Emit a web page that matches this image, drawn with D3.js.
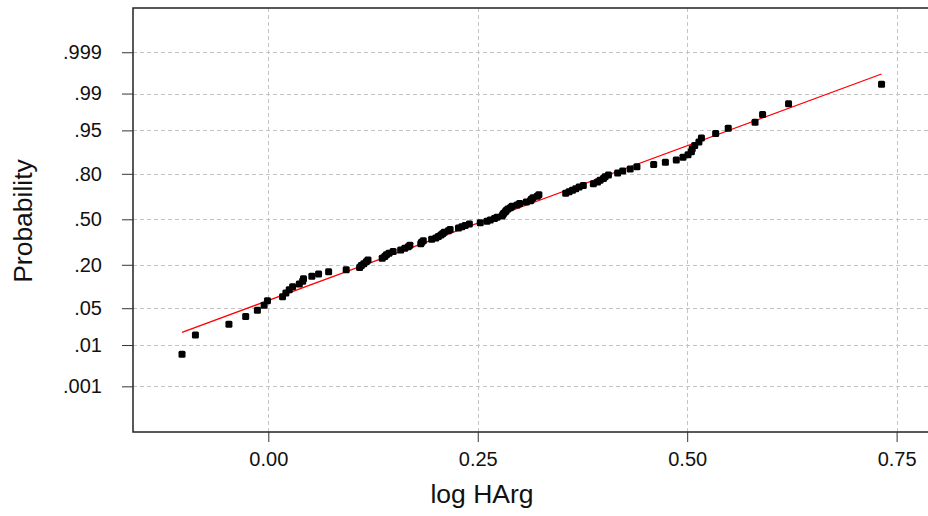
<!DOCTYPE html>
<html>
<head>
<meta charset="utf-8">
<script src="https://cdn.jsdelivr.net/npm/d3@7"></script>
<style>
  html, body { margin: 0; padding: 0; background: #fff; }
  svg { display: block; }
  .axis text { font-family: "Liberation Sans", Arial, sans-serif; font-size: 20px; fill: #111; }
  .axis path { display: none; }
  .axis line { stroke: #333; stroke-width: 1; }
  .title { font-family: "Liberation Sans", Arial, sans-serif; font-size: 26.5px; fill: #111; }
</style>
</head>
<body>
<svg id="chart" width="928" height="516"></svg>
<script>
// Observed log HArg values, sorted ascending (n = 100)
const logHArg = [
  -0.103, -0.087, -0.047, -0.027, -0.013, -0.005, -0.001, 0.017, 0.021, 0.025,
   0.029,  0.037,  0.041,  0.042,  0.052,  0.060,  0.072, 0.093, 0.109, 0.111,
   0.114,  0.117,  0.119,  0.136,  0.139,  0.141,  0.144, 0.149, 0.158, 0.163,
   0.167,  0.169,  0.182,  0.183,  0.185,  0.195,  0.200, 0.203, 0.206, 0.208,
   0.210,  0.215,  0.217,  0.227,  0.231,  0.235,  0.240, 0.253, 0.261, 0.265,
   0.270,  0.273,  0.279,  0.280,  0.281,  0.283,  0.284, 0.286, 0.289, 0.291,
   0.297,  0.300,  0.308,  0.313,  0.314,  0.316,  0.321, 0.323, 0.355, 0.359,
   0.363,  0.367,  0.371,  0.376,  0.388,  0.393,  0.396, 0.400, 0.402, 0.406,
   0.417,  0.423,  0.432,  0.440,  0.460,  0.474,  0.487, 0.495, 0.501, 0.505,
   0.506,  0.509,  0.514,  0.517,  0.534,  0.549,  0.581, 0.590, 0.621, 0.732
];

// Axis ticks
const xTicks = [0, 0.25, 0.5, 0.75];
const xTickLabels = ["0.00", "0.25", "0.50", "0.75"];
const probTicks = [0.001, 0.01, 0.05, 0.20, 0.50, 0.80, 0.95, 0.99, 0.999];
const probTickLabels = [".001", ".01", ".05", ".20", ".50", ".80", ".95", ".99", ".999"];

// Inverse standard normal CDF (Acklam's rational approximation)
function probit(p) {
  const a = [-3.969683028665376e+01, 2.209460984245205e+02, -2.759285104469687e+02,
             1.383577518672690e+02, -3.066479806614716e+01, 2.506628277459239e+00];
  const b = [-5.447609879822406e+01, 1.615858368580409e+02, -1.556989798598866e+02,
             6.680131188771972e+01, -1.328068155288572e+01];
  const c = [-7.784894002430293e-03, -3.223964580411365e-01, -2.400758277161838e+00,
             -2.549671369348940e+00, 4.374664141464968e+00, 2.938163982698783e+00];
  const d = [7.784695709041462e-03, 3.224671290700398e-01, 2.445134137142996e+00,
             3.754408661907416e+00];
  const pl = 0.02425, ph = 1 - pl;
  let q, r;
  if (p < pl) {
    q = Math.sqrt(-2 * Math.log(p));
    return (((((c[0]*q + c[1])*q + c[2])*q + c[3])*q + c[4])*q + c[5]) /
           ((((d[0]*q + d[1])*q + d[2])*q + d[3])*q + 1);
  }
  if (p <= ph) {
    q = p - 0.5; r = q * q;
    return (((((a[0]*r + a[1])*r + a[2])*r + a[3])*r + a[4])*r + a[5]) * q /
           (((((b[0]*r + b[1])*r + b[2])*r + b[3])*r + b[4])*r + 1);
  }
  q = Math.sqrt(-2 * Math.log(1 - p));
  return -(((((c[0]*q + c[1])*q + c[2])*q + c[3])*q + c[4])*q + c[5]) /
          ((((d[0]*q + d[1])*q + d[2])*q + d[3])*q + 1);
}

const svg = d3.select("#chart");
const plot = { left: 133, top: 8, right: 936, bottom: 432 };

const x = d3.scaleLinear().domain([-0.1615, 0.797]).range([plot.left, plot.right]);
// Vertical axis is linear in normal quantiles
const y = d3.scaleLinear().domain([-3.935, 3.909]).range([plot.bottom, plot.top]);

// Blom plotting positions
const n = logHArg.length;
const points = logHArg.map((v, i) => ({ x: v, z: probit((i + 1 - 0.375) / (n + 0.25)) }));

// Normal fit
const mu = d3.mean(logHArg);
const sd = d3.deviation(logHArg);
const xMin = d3.min(logHArg), xMax = d3.max(logHArg);

const defs = svg.append("defs");
defs.append("clipPath").attr("id", "clip")
  .append("rect").attr("x", plot.left).attr("y", plot.top)
  .attr("width", plot.right - plot.left).attr("height", plot.bottom - plot.top);

// Grid
const grid = svg.append("g").attr("stroke", "#c4c4c4").attr("stroke-width", 1)
  .attr("stroke-dasharray", "4,3");
grid.selectAll(".gx").data(xTicks).join("line")
  .attr("x1", d => Math.round(x(d)) + 0.5).attr("x2", d => Math.round(x(d)) + 0.5)
  .attr("y1", plot.top).attr("y2", plot.bottom);
grid.selectAll(".gy").data(probTicks).join("line")
  .attr("x1", plot.left).attr("x2", plot.right)
  .attr("y1", d => Math.round(y(probit(d))) + 0.5).attr("y2", d => Math.round(y(probit(d))) + 0.5);

// Fitted line
svg.append("line")
  .attr("x1", x(xMin)).attr("y1", y((xMin - mu) / sd))
  .attr("x2", x(xMax)).attr("y2", y((xMax - mu) / sd))
  .attr("stroke", "#ff0000").attr("stroke-width", 1.3);

// Points
svg.append("g").attr("clip-path", "url(#clip)")
  .selectAll("rect").data(points).join("rect")
  .attr("x", d => x(d.x) - 3.5).attr("y", d => y(d.z) - 3.5)
  .attr("width", 7).attr("height", 7).attr("rx", 1.5)
  .attr("fill", "#000");

// Frame
svg.append("rect")
  .attr("x", plot.left).attr("y", plot.top)
  .attr("width", plot.right - plot.left).attr("height", plot.bottom - plot.top)
  .attr("fill", "none").attr("stroke", "#222").attr("stroke-width", 1.5);

// Axes
svg.append("g").attr("class", "axis")
  .attr("transform", `translate(0,${plot.bottom})`)
  .call(d3.axisBottom(x).tickValues(xTicks).tickSize(10).tickPadding(10)
    .tickFormat((d, i) => xTickLabels[i]));

svg.append("g").attr("class", "axis")
  .attr("transform", `translate(${plot.left},0)`)
  .call(d3.axisLeft(y).tickValues(probTicks.map(probit)).tickSize(11).tickPadding(20)
    .tickFormat((d, i) => probTickLabels[i]));

// Titles
svg.append("text").attr("class", "title")
  .attr("x", 482).attr("y", 503).attr("text-anchor", "middle").text("log HArg");
svg.append("text").attr("class", "title")
  .attr("transform", `translate(32,${221}) rotate(-90)`)
  .attr("text-anchor", "middle").text("Probability");
</script>
</body>
</html>
